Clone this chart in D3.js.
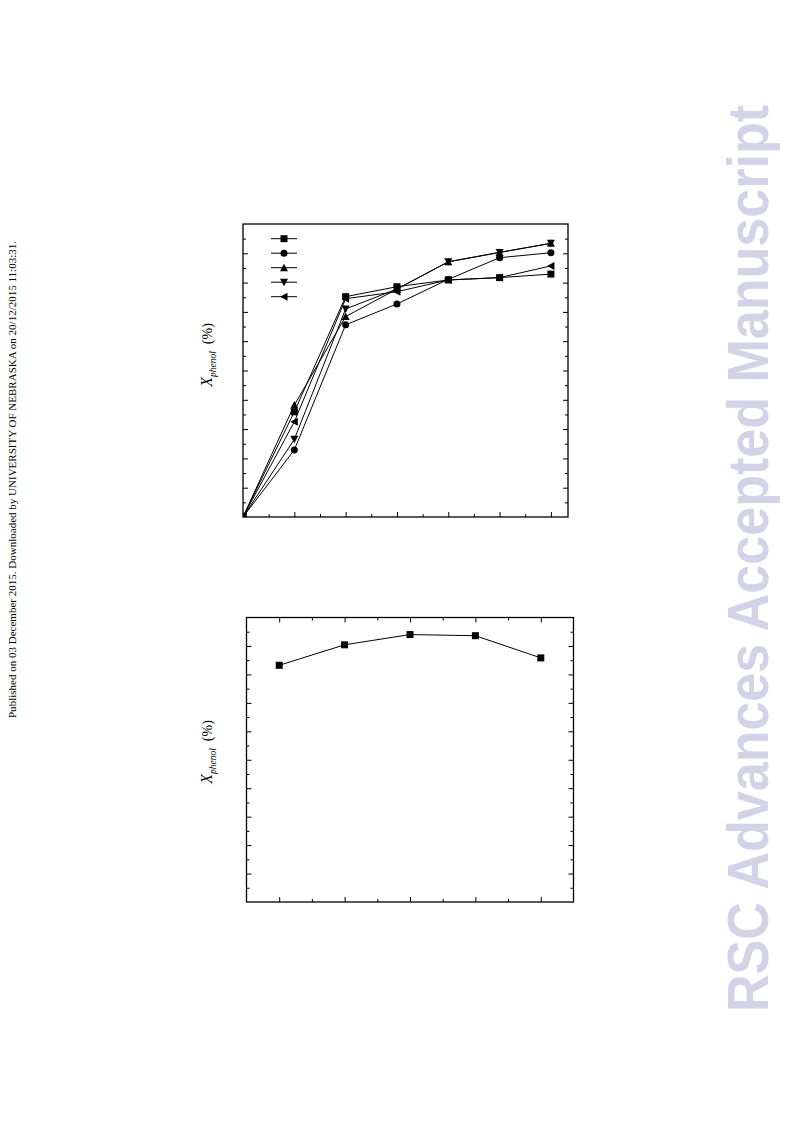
<!DOCTYPE html>
<html>
<head>
<meta charset="utf-8">
<script src="https://cdn.jsdelivr.net/npm/d3@7"></script>
<style>
  html, body { margin: 0; padding: 0; background: #fff; }
  svg { display: block; }
</style>
</head>
<body>
<svg id="chart" width="793" height="1121"></svg>
<script>
// ---------- data ----------
const xTop = [0, 1, 2, 3, 4, 5, 6];
const seriesSquare   = [0, 35.9, 75.2, 78.6, 80.9, 81.7, 82.9];
const seriesCircle   = [0, 22.9, 65.6, 72.7, 81.1, 88.5, 90.2];
const seriesTriUp    = [0, 38.2, 68.4, 77.8, 87.1, 90.3, 93.4];
const seriesTriDown  = [0, 26.5, 71.0, 77.8, 87.1, 90.3, 93.4];
const seriesTriLeft  = [0, 32.5, 74.5, 76.9, 80.9, 81.7, 85.7];
const markerNames = ["square", "circle", "up", "down", "left"];

const xBottom = [1, 2, 3, 4, 5];
const seriesBottom = [83.2, 90.4, 94.0, 93.6, 85.8];

const sideNote = "Published on 03 December 2015. Downloaded by UNIVERSITY OF NEBRASKA on 20/12/2015 11:03:31.";
const watermark = "RSC Advances Accepted Manuscript";

// ---------- helpers ----------
const svg = d3.select("#chart");
const defs = svg.append("defs");

function markerPath(type, s) {
  const h = s / 2;
  switch (type) {
    case "square": return `M${-h},${-h}H${h}V${h}H${-h}Z`;
    case "circle": return d3.symbol(d3.symbolCircle, Math.PI * h * h)();
    case "up":     return `M0,${-h - 0.5}L${h + 0.5},${h}L${-h - 0.5},${h}Z`;
    case "down":   return `M0,${h + 0.5}L${h + 0.5},${-h}L${-h - 0.5},${-h}Z`;
    case "left":   return `M${-h - 0.5},0L${h},${-h - 0.5}L${h},${h + 0.5}Z`;
  }
}

function frameAxes(g, x, y, xMajor, xMinor, yMajor, yMinor, topTicks) {
  const [x0, x1] = x.range();
  const [y0, y1] = y.range(); // y0 bottom, y1 top
  const axisStyle = sel => {
    sel.select(".domain").remove();
    sel.selectAll("text").remove();
    sel.selectAll("line").attr("stroke", "#000").attr("stroke-width", 1);
  };
  g.append("g").attr("transform", `translate(0,${y0})`)
    .call(d3.axisBottom(x).tickValues(xMajor).tickSize(-5)).call(axisStyle);
  g.append("g").attr("transform", `translate(0,${y0})`)
    .call(d3.axisBottom(x).tickValues(xMinor).tickSize(-3)).call(axisStyle);
  if (topTicks) {
    g.append("g").attr("transform", `translate(0,${y1})`)
      .call(d3.axisTop(x).tickValues(xMajor).tickSize(-5)).call(axisStyle);
    g.append("g").attr("transform", `translate(0,${y1})`)
      .call(d3.axisTop(x).tickValues(xMinor).tickSize(-3)).call(axisStyle);
  }
  g.append("g").attr("transform", `translate(${x0},0)`)
    .call(d3.axisLeft(y).tickValues(yMajor).tickSize(-5)).call(axisStyle);
  g.append("g").attr("transform", `translate(${x0},0)`)
    .call(d3.axisLeft(y).tickValues(yMinor).tickSize(-3)).call(axisStyle);
  g.append("g").attr("transform", `translate(${x1},0)`)
    .call(d3.axisRight(y).tickValues(yMajor).tickSize(-5)).call(axisStyle);
  g.append("g").attr("transform", `translate(${x1},0)`)
    .call(d3.axisRight(y).tickValues(yMinor).tickSize(-3)).call(axisStyle);
  g.append("rect")
    .attr("x", x0).attr("y", y1)
    .attr("width", x1 - x0).attr("height", y0 - y1)
    .attr("fill", "none").attr("stroke", "#000").attr("stroke-width", 1.3);
}

function yLabel(g, cx, cy) {
  const t = g.append("text")
    .attr("transform", `translate(${cx},${cy}) rotate(-90)`)
    .attr("text-anchor", "middle")
    .attr("font-family", "'Liberation Serif', 'Times New Roman', serif")
    .attr("fill", "#000");
  t.append("tspan").attr("font-style", "italic").attr("font-size", 16).text("X");
  t.append("tspan").attr("font-style", "italic").attr("font-size", 9.5).attr("dy", 4).text("phenol");
  t.append("tspan").attr("font-size", 14).attr("dy", -4).attr("dx", 7).text("(%)");
}

const yMajor = d3.range(10, 100, 10);
const yMinor = d3.range(5, 100, 10);

// ---------- chart 1 ----------
{
  const g = svg.append("g");
  const x = d3.scaleLinear().domain([0, 6.333]).range([243, 568]);
  const y = d3.scaleLinear().domain([0, 100]).range([517, 224]);
  defs.append("clipPath").attr("id", "clip1").append("rect")
    .attr("x", 243).attr("y", 224).attr("width", 325).attr("height", 293);
  frameAxes(g, x, y, d3.range(1, 7, 1), d3.range(0.5, 6.5, 1), yMajor, yMinor, false);

  const allSeries = [seriesSquare, seriesCircle, seriesTriUp, seriesTriDown, seriesTriLeft];
  const plot = g.append("g").attr("clip-path", "url(#clip1)");
  const line = d3.line().x((d, i) => x(xTop[i])).y(d => y(d));
  allSeries.forEach(s => {
    plot.append("path").attr("d", line(s))
      .attr("fill", "none").attr("stroke", "#000").attr("stroke-width", 1);
  });
  allSeries.forEach((s, k) => {
    plot.selectAll(null).data(s).enter().append("path")
      .attr("transform", (d, i) => `translate(${x(xTop[i])},${y(d)})`)
      .attr("d", markerPath(markerNames[k], 7))
      .attr("fill", "#000");
  });

  const legX0 = 271, legX1 = 297, legMid = 284;
  markerNames.forEach((m, k) => {
    const ly = 238.7 + k * 14.5;
    g.append("line").attr("x1", legX0).attr("x2", legX1).attr("y1", ly).attr("y2", ly)
      .attr("stroke", "#000").attr("stroke-width", 1);
    g.append("path").attr("transform", `translate(${legMid},${ly})`)
      .attr("d", markerPath(m, 7)).attr("fill", "#000");
  });

  yLabel(g, 212, 355);
}

// ---------- chart 2 ----------
{
  const g = svg.append("g");
  const x = d3.scaleLinear().domain([0.5, 5.5]).range([246.5, 573.5]);
  const y = d3.scaleLinear().domain([0, 100]).range([902, 617.5]);
  frameAxes(g, x, y, d3.range(1, 6, 1), d3.range(1.5, 5, 1), yMajor, yMinor, true);

  const line = d3.line().x((d, i) => x(xBottom[i])).y(d => y(d));
  g.append("path").attr("d", line(seriesBottom))
    .attr("fill", "none").attr("stroke", "#000").attr("stroke-width", 1);
  g.selectAll(null).data(seriesBottom).enter().append("path")
    .attr("transform", (d, i) => `translate(${x(xBottom[i])},${y(d)})`)
    .attr("d", markerPath("square", 7))
    .attr("fill", "#000");

  yLabel(g, 212, 752);
}

// ---------- side note ----------
svg.append("text")
  .attr("transform", "translate(16,718) rotate(-90)")
  .attr("font-family", "'Liberation Serif', 'Times New Roman', serif")
  .attr("font-size", 10.5)
  .attr("textLength", 477)
  .attr("lengthAdjust", "spacingAndGlyphs")
  .attr("fill", "#000")
  .text(sideNote);

// ---------- watermark ----------
svg.append("text")
  .attr("transform", "translate(768,1012) rotate(-90)")
  .attr("font-family", "'Liberation Sans', Arial, sans-serif")
  .attr("font-weight", "bold")
  .attr("font-size", 58)
  .attr("textLength", 907)
  .attr("lengthAdjust", "spacingAndGlyphs")
  .attr("fill", "#d3d3e8")
  .text(watermark);
</script>
</body>
</html>
